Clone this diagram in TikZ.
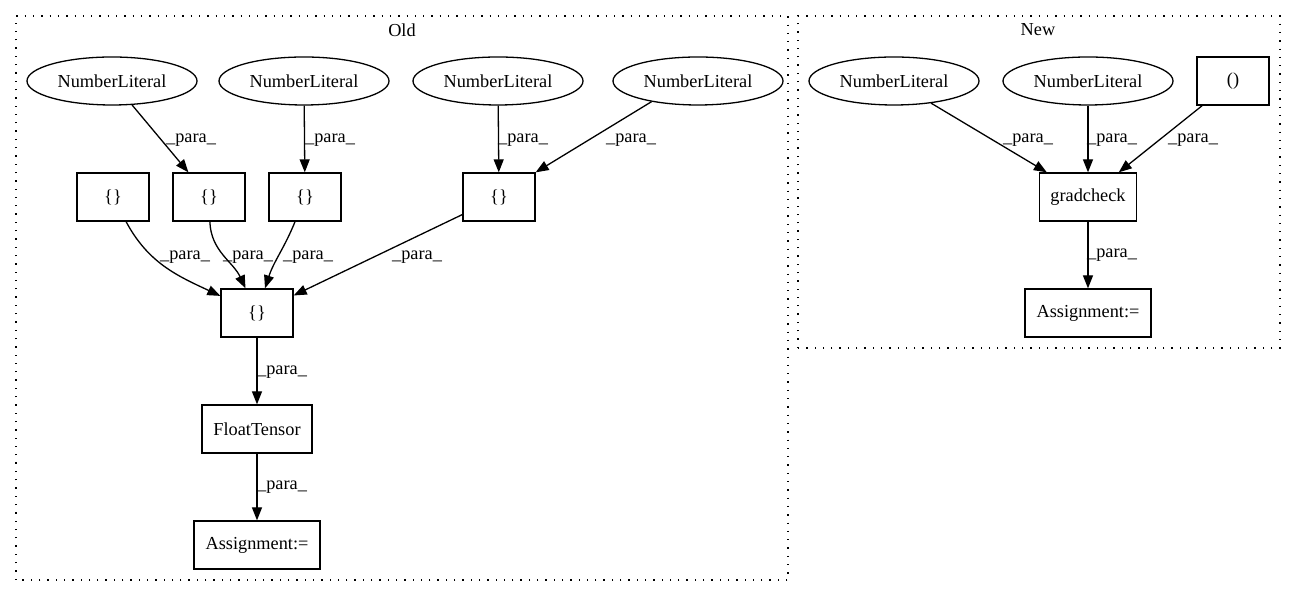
\documentclass[tikz,border=0pt]{standalone}
\usepackage{fontspec}
\setmainfont{Liberation Serif}
\usetikzlibrary{shapes.geometric,arrows.meta}
\tikzset{
  base/.style={draw, line width=1.3pt, inner sep=0pt, font=\fontsize{18.3}{20}\selectfont},
  ell/.style={base, ellipse, minimum width=170pt, minimum height=48pt},
  box/.style={base, rectangle, minimum height=48pt},
  edge/.style={line width=1.3pt, -{Triangle[length=13pt,width=10pt]}},
  lbl/.style={inner sep=0pt, font=\fontsize{18.3}{20}\selectfont},
  clus/.style={line width=1.3pt, dash pattern=on 1.3pt off 7pt},
}
\begin{document}
\begin{tikzpicture}[x=1pt,y=1pt]
\useasboundingbox (0,0) rectangle (1296,596);
% clusters
\draw[clus] (16,16) rectangle (788,580);
\node[lbl] (told) at (402,566) {Old};
\draw[clus] (798,248) rectangle (1280,580);
\node[lbl] (tnew) at (1038,566) {New};
% Old nodes
\node[ell] (nl1) at (112,515) {NumberLiteral};
\node[ell] (nl2) at (304,515) {NumberLiteral};
\node[ell] (nl3) at (498,515) {NumberLiteral};
\node[ell] (nl4) at (698,515) {NumberLiteral};
\node[box, minimum width=72pt] (b0) at (113,399) {\{\}};
\node[box, minimum width=72pt] (b1) at (209,399) {\{\}};
\node[box, minimum width=72pt] (b2) at (305,399) {\{\}};
\node[box, minimum width=72pt] (b3) at (499,399) {\{\}};
\node[box, minimum width=72pt] (c) at (257,283) {\{\}};
\node[box, minimum width=110pt] (ft) at (257,167) {FloatTensor};
\node[box, minimum width=126pt] (a1) at (257,51) {Assignment:=};
% Old edges
\draw[edge] (nl1) -- (b1);
\draw[edge] (nl2) -- (b2);
\draw[edge] (nl3) -- (b3);
\draw[edge] (nl4.204) -- (b3.north east);
\draw[edge] (b0) to[out=-62,in=155] (c);
\draw[edge] (b1) to[out=-88,in=115] (c);
\draw[edge] (b2) to[out=-112,in=72] (c);
\draw[edge] (b3) -- (c);
\draw[edge] (c) -- (ft);
\draw[edge] (ft) -- (a1);
\node[lbl] (l1) at (191,456) {\_para\_};
\node[lbl] (l2) at (330,456) {\_para\_};
\node[lbl] (l3) at (523,456) {\_para\_};
\node[lbl] (l4) at (631,456) {\_para\_};
\node[lbl] (l5) at (185,339) {\_para\_};
\node[lbl] (l6) at (248,339) {\_para\_};
\node[lbl] (l7) at (308,339) {\_para\_};
\node[lbl] (l8) at (417,339) {\_para\_};
\node[lbl] (l9) at (282,224) {\_para\_};
\node[lbl] (l10) at (282,109) {\_para\_};
% New nodes
\node[ell] (nl5) at (894,515) {NumberLiteral};
\node[ell] (nl6) at (1088,515) {NumberLiteral};
\node[box, minimum width=72pt] (p) at (1233,515) {()};
\node[box, minimum width=97pt] (g) at (1088,399) {gradcheck};
\node[box, minimum width=126pt] (a2) at (1088,283) {Assignment:=};
\draw[edge] (nl5) -- (g);
\draw[edge] (nl6) -- (g);
\draw[edge] (p) -- (g);
\draw[edge] (g) -- (a2);
\node[lbl] (l11) at (1028,456) {\_para\_};
\node[lbl] (l12) at (1112,456) {\_para\_};
\node[lbl] (l13) at (1193,456) {\_para\_};
\node[lbl] (l14) at (1112,341) {\_para\_};
\end{tikzpicture}
\end{document}
